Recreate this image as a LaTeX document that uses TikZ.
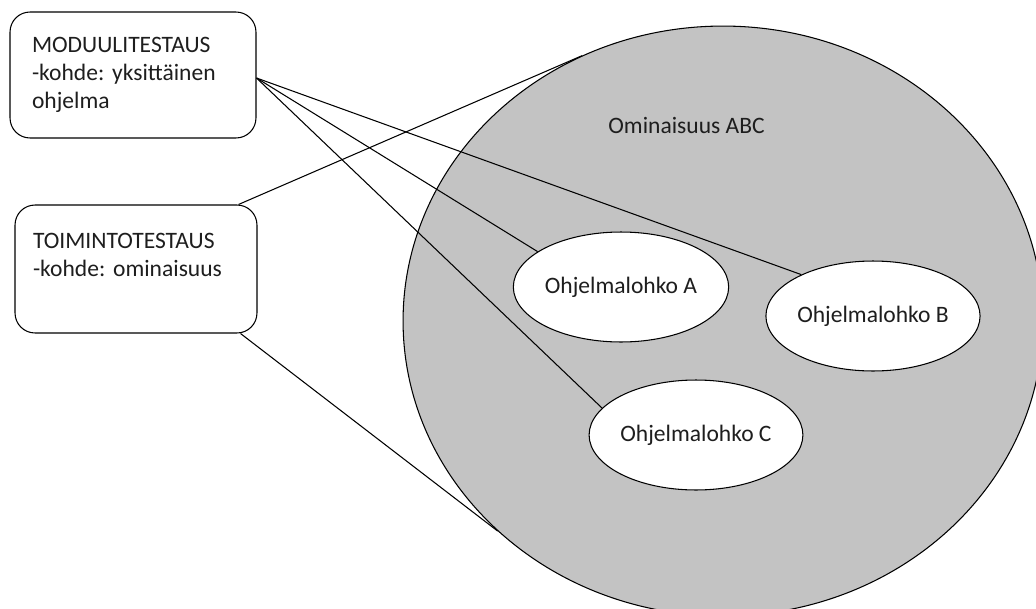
\documentclass[tikz,border=0pt]{standalone}
\usepackage{fontspec}
\setmainfont{Carlito}
\usetikzlibrary{shapes.geometric}
\definecolor{featgray}{RGB}{195,195,195}
\definecolor{inkgray}{RGB}{30,30,30}
\frenchspacing
\begin{document}
\begin{tikzpicture}[x=0.02cm,y=-0.02cm,
  line width=0.6pt,
  every node/.style={font=\fontsize{13.4}{15.9}\selectfont, text=inkgray},
  testbox/.style={draw, rounded corners=0.4cm, align=left, inner ysep=0pt},
  block/.style={ellipse, draw, fill=white, inner sep=0pt,
    minimum width=4.26cm, minimum height=2.2cm}]
  \clip (0,0) rectangle (1036,609);

  % test levels
  \node[testbox, minimum height=2.52cm, text width=4.04cm, inner xsep=0.44cm]
    (modul) at (133,75) {MODUULITESTAUS\\-kohde: yksittäinen\\ohjelma};
  \node[testbox, minimum height=2.56cm, text width=4.12cm, inner xsep=0.36cm]
    (toim) at (136,269) {TOIMINTOTESTAUS\\-kohde: ominaisuus\\\mbox{}};

  % the feature and its program blocks
  \node[ellipse, draw, fill=featgray, inner sep=0pt,
    minimum width=12.8cm, minimum height=11.8cm] (feat) at (723,321) {};
  \node[anchor=base west] (featlbl) at (602,133) {Ominaisuus ABC};

  \node[block] (blA) at (621,287) {Ohjelmalohko A};
  \node[block] (blB) at (873,316) {Ohjelmalohko B};
  \node[block] (blC) at (696,435) {Ohjelmalohko C};

  % unit testing targets each block
  \coordinate (mout) at ([yshift=-0.06cm]modul.east);
  \draw (mout) -- (blA.157);
  \draw (mout) -- (blB.150);
  \draw (mout) -- (blC.164);

  % feature testing covers the whole feature
  \draw ([xshift=-0.38cm]toim.north east) -- (feat.118);
  \draw ([xshift=-0.34cm]toim.south east) -- (feat.-137);
\end{tikzpicture}
\end{document}
